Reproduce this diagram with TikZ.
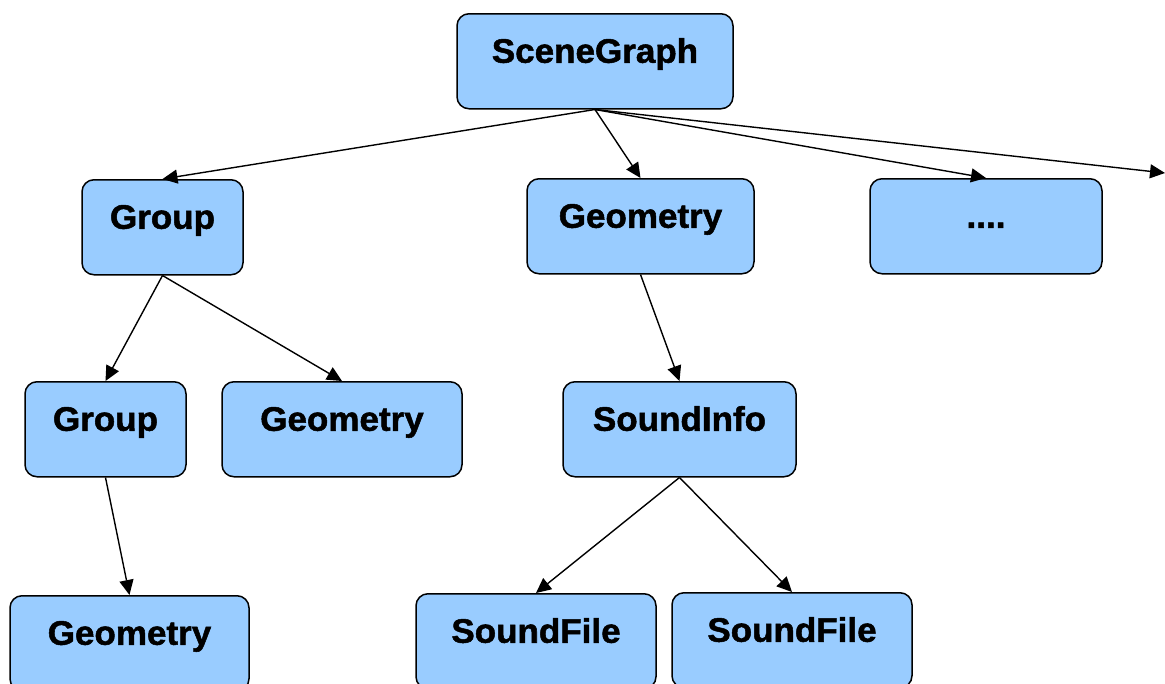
\documentclass[tikz,border=0pt]{standalone}
\usepackage{fontspec}
\setmainfont{Liberation Sans}[FakeStretch=1.03,BoldFeatures={FakeBold=1.5}]
\usetikzlibrary{arrows.meta}
\definecolor{boxblue}{HTML}{99CCFF}
\tikzset{
  box/.style={draw=black, fill=boxblue, line width=1.5pt, rounded corners=12pt,
    anchor=north, inner xsep=0pt, inner ysep=0pt, text height=49pt, text depth=46pt,
    font=\fontsize{34}{40}\selectfont\bfseries},
  link/.style={line width=1.4pt, -{Triangle[length=15pt,width=14pt]}}
}
\begin{document}
\begin{tikzpicture}[x=1pt,y=-1pt]
\useasboundingbox (0,0) rectangle (1165,683);
\node[box, minimum width=276pt] (sg) at (595,13) {SceneGraph};
\node[box, minimum width=161pt] (g1) at (162.5,179) {Group};
\node[box, minimum width=227pt] (geo1) at (640.5,178) {Geometry};
\node[box, minimum width=232pt] (dots) at (986,178) {....};
\node[box, minimum width=161pt] (g2) at (105.5,381) {Group};
\node[box, minimum width=240pt] (geo2) at (342,381) {Geometry};
\node[box, minimum width=233pt] (si) at (679.5,381) {SoundInfo};
\node[box, minimum width=239pt] (geo3) at (129.5,595) {Geometry};
\node[box, minimum width=240pt] (sf1) at (536,593) {SoundFile};
\node[box, minimum width=240pt] (sf2) at (792,592) {SoundFile};
\coordinate (off) at (1165,173);
\draw[link] (sg.south) -- (g1.north);
\draw[link] (sg.south) -- (geo1.north);
\draw[link] (sg.south) -- (dots.north);
\draw[link] (sg.south) -- (off);
\draw[link] (g1.south) -- (g2.north);
\draw[link] (g1.south) -- (geo2.north);
\draw[link] (geo1.south) -- (si.north);
\draw[link] (g2.south) -- (geo3.north);
\draw[link] (si.south) -- (sf1.north);
\draw[link] (si.south) -- (sf2.north);
\end{tikzpicture}
\end{document}
